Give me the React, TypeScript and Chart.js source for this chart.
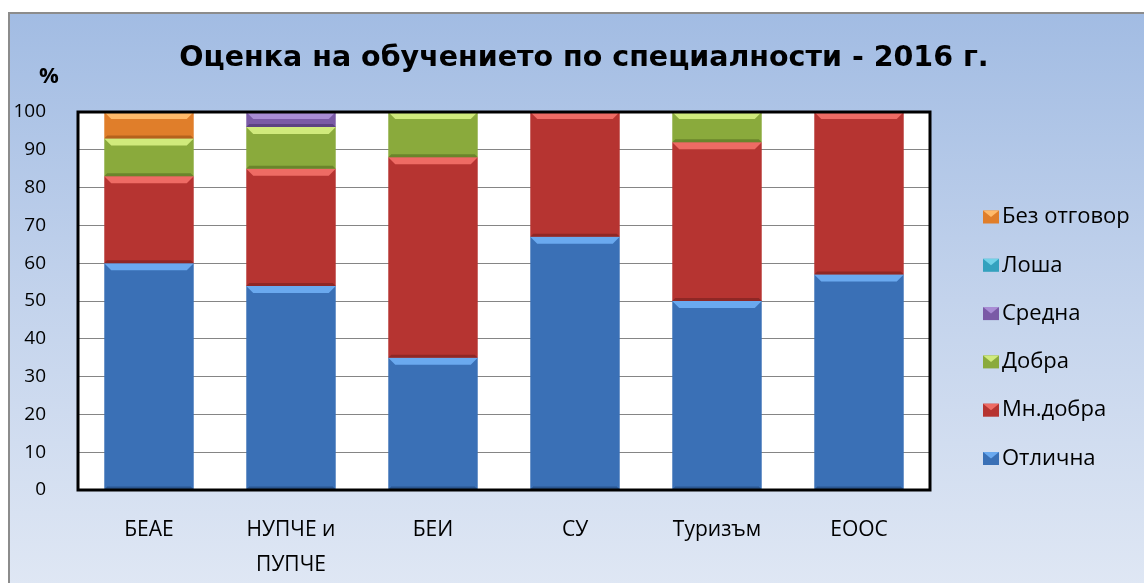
import React, { useEffect, useRef } from "react";
import { Chart, registerables } from "chart.js";

Chart.register(...registerables);

const categories: (string | string[])[] = ["БЕАЕ", ["НУПЧЕ и", "ПУПЧЕ"], "БЕИ", "СУ", "Туризъм", "ЕООС"];
const otlichna = [60, 54, 35, 67, 50, 57];
const mnDobra = [23, 31, 53, 33, 42, 43];
const dobra = [10, 11, 12, 0, 8, 0];
const sredna = [0, 4, 0, 0, 0, 0];
const losha = [0, 0, 0, 0, 0, 0];
const bezOtgovor = [7, 0, 0, 0, 0, 0];
const yTicks = [0, 10, 20, 30, 40, 50, 60, 70, 80, 90, 100];
const titleText = "Оценка на обучението по специалности - 2016 г.";

const FONT = "'Open Sans', 'DejaVu Sans', sans-serif";
const TITLE_FONT = "'DejaVu Sans', 'Open Sans', sans-serif";

const seriesStyle = [
  { label: "Отлична", data: otlichna, base: "#3a70b6", light: "#6aa9ef", dark: "#2b568f" },
  { label: "Мн.добра", data: mnDobra, base: "#b63431", light: "#ee6b64", dark: "#8f2725" },
  { label: "Добра", data: dobra, base: "#8aaa3c", light: "#d0ea7c", dark: "#6a852b" },
  { label: "Средна", data: sredna, base: "#7a5aa6", light: "#a98cd4", dark: "#5c4282" },
  { label: "Лоша", data: losha, base: "#33a1be", light: "#72d2e8", dark: "#24798f" },
  { label: "Без отговор", data: bezOtgovor, base: "#e07e2a", light: "#ffba6a", dark: "#b5621c" },
];

const decorPlugin = {
  id: "decor",
  beforeDraw(chart: any) {
    const { ctx, chartArea } = chart;
    ctx.save();
    ctx.fillStyle = "#ffffff";
    ctx.fillRect(chartArea.left, chartArea.top, chartArea.right - chartArea.left, chartArea.bottom - chartArea.top);
    ctx.restore();
  },
  afterDatasetsDraw(chart: any) {
    const { ctx, chartArea } = chart;
    ctx.save();
    chart.data.datasets.forEach((ds: any, di: number) => {
      const meta = chart.getDatasetMeta(di);
      const st = seriesStyle[di];
      meta.data.forEach((el: any) => {
        const { x, y, base, width } = el.getProps(["x", "y", "base", "width"], true);
        const top = Math.min(y, base);
        const bot = Math.max(y, base);
        const h = bot - top;
        if (h < 2) return;
        const l = x - width / 2;
        const r = x + width / 2;
        const bev = Math.min(7, h / 2);
        ctx.fillStyle = st.light;
        ctx.beginPath();
        ctx.moveTo(l, top);
        ctx.lineTo(r, top);
        ctx.lineTo(r - bev, top + bev);
        ctx.lineTo(l + bev, top + bev);
        ctx.closePath();
        ctx.fill();
        ctx.fillStyle = st.dark;
        ctx.beginPath();
        ctx.moveTo(l, bot);
        ctx.lineTo(r, bot);
        ctx.lineTo(r - 3, bot - 3);
        ctx.lineTo(l + 3, bot - 3);
        ctx.closePath();
        ctx.fill();
      });
    });
    // plot frame
    ctx.lineWidth = 3;
    ctx.strokeStyle = "#000000";
    ctx.strokeRect(chartArea.left, chartArea.top, chartArea.right - chartArea.left, chartArea.bottom - chartArea.top);
    // "%" unit label
    ctx.fillStyle = "#000000";
    ctx.font = `bold 22px ${FONT}`;
    ctx.textAlign = "center";
    ctx.textBaseline = "middle";
    ctx.fillText("%", chartArea.left - 29, chartArea.top - 35);
    // title
    ctx.font = `bold 28.5px ${TITLE_FONT}`;
    ctx.fillText(titleText, 574, 45);
    // legend (reversed order)
    ctx.font = `22px ${FONT}`;
    ctx.textAlign = "left";
    const order = chart.data.datasets.map((_: any, i: number) => i).reverse();
    order.forEach((di: number, k: number) => {
      const st = seriesStyle[di];
      const cy = chartArea.top + 105 + k * 48.3;
      const bx = chartArea.right + 53;
      ctx.fillStyle = st.base;
      ctx.fillRect(bx, cy - 6.5, 16, 13);
      ctx.fillStyle = st.light;
      ctx.beginPath();
      ctx.moveTo(bx, cy - 6.5);
      ctx.lineTo(bx + 16, cy - 6.5);
      ctx.lineTo(bx + 8, cy);
      ctx.closePath();
      ctx.fill();
      ctx.fillStyle = "#000000";
      ctx.fillText(chart.data.datasets[di].label, bx + 19, cy);
    });
    ctx.restore();
  },
};

export default function App() {
  const canvasRef = useRef<HTMLCanvasElement | null>(null);

  useEffect(() => {
    if (!canvasRef.current) return;
    const chart = new Chart(canvasRef.current, {
      type: "bar",
      data: {
        labels: categories,
        datasets: seriesStyle.map((s) => ({
          label: s.label,
          data: s.data,
          backgroundColor: s.base,
          borderWidth: 0,
          barPercentage: 0.63,
          categoryPercentage: 1,
        })),
      },
      options: {
        responsive: false,
        animation: false,
        layout: { padding: { left: 4, right: 216, top: 98, bottom: 4 } },
        plugins: {
          title: { display: false },
          legend: { display: false },
          tooltip: { enabled: false },
        },
        scales: {
          x: {
            stacked: true,
            grid: { display: false, drawTicks: false },
            border: { display: false },
            ticks: {
              color: "#000000",
              font: { family: FONT, size: 21, lineHeight: 1.667 },
              padding: 23,
              maxRotation: 0,
            },
            afterFit: (axis: any) => {
              axis.height = 91;
            },
          },
          y: {
            stacked: true,
            min: 0,
            max: 100,
            afterBuildTicks: (axis: any) => {
              axis.ticks = yTicks.map((v) => ({ value: v }));
            },
            grid: { color: "#858585", lineWidth: 1, drawTicks: false },
            border: { display: false },
            ticks: {
              color: "#000000",
              font: { family: FONT, size: 19 },
              padding: 32,
            },
            afterFit: (axis: any) => {
              axis.width = 64;
            },
          },
        },
      },
      plugins: [decorPlugin],
    } as any);
    return () => chart.destroy();
  }, []);

  return (
    <div
      style={{
        position: "fixed",
        left: 8,
        top: 12,
        width: 1136,
        height: 571,
        borderTop: "2px solid #8c8c8c",
        borderLeft: "2px solid #8c8c8c",
        background: "linear-gradient(180deg, #a2bce3 0%, #c3d3ec 50%, #dfe7f4 100%)",
      }}
    >
      <canvas ref={canvasRef} width={1136} height={571} style={{ display: "block" }} />
    </div>
  );
}
